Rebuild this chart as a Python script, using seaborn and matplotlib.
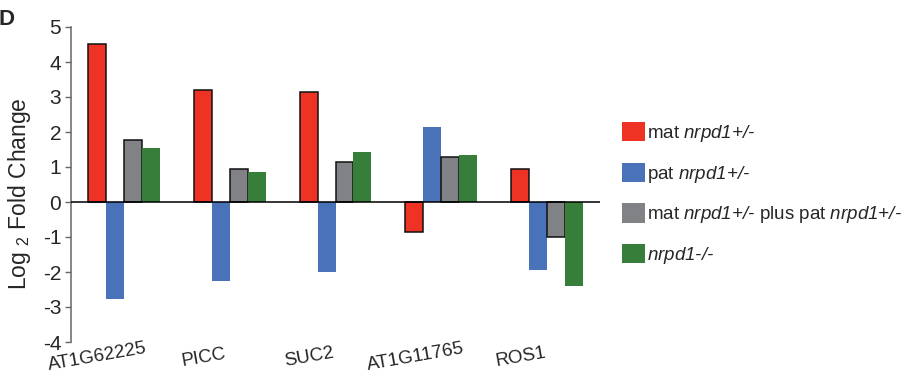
import numpy as np
import pandas as pd
import matplotlib
matplotlib.use("Agg")
import matplotlib.pyplot as plt
import matplotlib.transforms as mtransforms
from matplotlib.patches import Patch
import seaborn as sns

genes = ["AT1G62225", "PICC", "SUC2", "AT1G11765", "ROS1"]
groups = ["mat", "pat", "matpat", "homo"]
mat_vals = [4.52, 3.19, 3.14, -0.87, 0.93]
pat_vals = [-2.76, -2.27, -2.01, 2.15, -1.94]
matpat_vals = [1.77, 0.93, 1.13, 1.29, -1.00]
homo_vals = [1.54, 0.87, 1.43, 1.35, -2.39]
HY = "\u2010"
legend_labels = [
    "mat $nrpd1{+}/" + HY + "$",
    "pat $nrpd1{+}/" + HY + "$",
    "mat $nrpd1{+}/" + HY + "$ plus pat $nrpd1{+}/" + HY + "$",
    "$nrpd1" + HY + "/" + HY + "$",
]
colors = ["#EE3224", "#4A72B8", "#808285", "#377E3B"]
yticks = [-4, -3, -2, -1, 0, 1, 2, 3, 4, 5]

sns.set_theme(style="white")
plt.rcParams["font.family"] = ["Liberation Sans", "DejaVu Sans"]
plt.rcParams["mathtext.fontset"] = "custom"
plt.rcParams["mathtext.rm"] = "Liberation Sans:italic"
plt.rcParams["mathtext.it"] = "Liberation Sans:italic"
plt.rcParams["mathtext.bf"] = "Liberation Sans:bold"
plt.rcParams["mathtext.default"] = "it"

rows = []
for g, vals in zip(groups, [mat_vals, pat_vals, matpat_vals, homo_vals]):
    for gene, v in zip(genes, vals):
        rows.append({"gene": gene, "group": g, "value": v})
df = pd.DataFrame(rows)

fig = plt.figure(figsize=(9.18, 3.74), dpi=100)
ax = fig.add_axes([71 / 918, 1 - 342 / 374, 529 / 918, 315 / 374])

sns.barplot(data=df, x="gene", y="value", hue="group", order=genes,
            hue_order=groups, palette=colors, width=0.68, gap=0,
            saturation=1, errorbar=None, legend=False, ax=ax)

for i, cont in enumerate(ax.containers):
    for bar in cont:
        if i in (0, 2):
            bar.set_edgecolor("#111111")
            bar.set_linewidth(1.1)
        else:
            bar.set_edgecolor("none")
            bar.set_linewidth(0)

ax.set_xlim(-0.5, 4.5)
ax.set_ylim(-4, 5)
ax.axhline(0, color="black", lw=1.1, zorder=5)
ax.set_yticks(yticks)
ax.set_yticklabels([str(t) for t in yticks], fontsize=15)
ax.tick_params(axis="y", direction="out", length=4, width=1, color="#666666",
               pad=3, left=True)
ax.tick_params(axis="x", length=0, pad=11)

for s in ["top", "right", "bottom"]:
    ax.spines[s].set_visible(False)
ax.spines["left"].set_color("#666666")
ax.spines["left"].set_linewidth(1.1)

ax.set_xlabel("")
ax.set_ylabel(r"Log $_{\mathregular{2}}$ Fold Change", fontsize=16.5)
ax.yaxis.set_label_coords(-0.098, 0.47)
ax.yaxis.label.set_va("center")

ax.set_xticks(range(len(genes)))
ax.set_xticklabels(genes, fontsize=13.5)
offset = mtransforms.ScaledTranslation(-26 / 100, 0, fig.dpi_scale_trans)
for lab in ax.get_xticklabels():
    lab.set_rotation(10)
    lab.set_rotation_mode("anchor")
    lab.set_ha("center")
    lab.set_va("center")
    lab.set_transform(lab.get_transform() + offset)

handles = [Patch(facecolor=c, edgecolor="none") for c in colors]
fig.legend(handles, legend_labels, loc="center left",
           bbox_to_anchor=(622 / 918, 1 - 194 / 374), frameon=False,
           fontsize=13.5, handlelength=1.2, handleheight=1.2,
           handletextpad=0.12, labelspacing=1.0, borderpad=0,
           borderaxespad=0)

fig.text(-0.002, 0.975, "D", fontsize=16, fontweight="bold", ha="left",
         va="top")

fig.savefig("out.png", dpi=100)
